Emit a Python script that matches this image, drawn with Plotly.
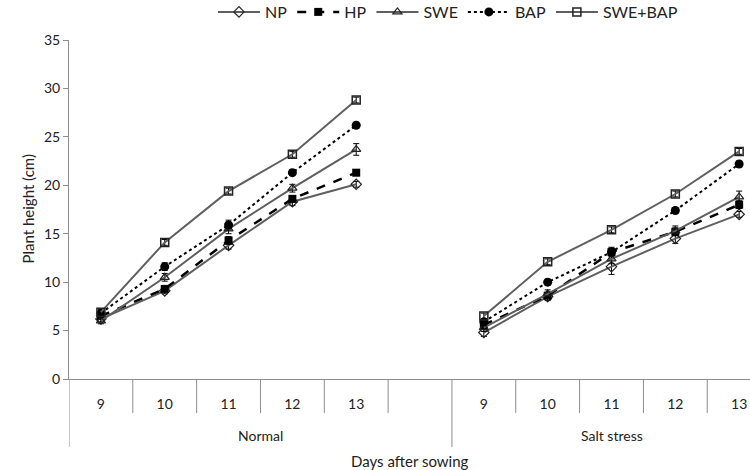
import plotly.graph_objects as go

# Category positions: 0-4 Normal (days 9-13), 5 empty, 6-10 Salt stress (days 9-13)
day_labels = ["9", "10", "11", "12", "13", "", "9", "10", "11", "12", "13"]
group_labels = ["Normal", "Salt stress"]
series_names = ["NP", "HP", "SWE", "BAP", "SWE+BAP"]

x_pos = [0, 1, 2, 3, 4, 6, 7, 8, 9, 10]

NP = [6.2, 9.1, 13.8, 18.3, 20.1, 4.8, 8.5, 11.6, 14.5, 17.0]
HP = [6.5, 9.3, 14.3, 18.6, 21.3, 5.6, 8.6, 13.1, 15.2, 18.0]
SWE = [6.0, 10.5, 15.5, 19.7, 23.7, 5.3, 8.8, 12.4, 15.3, 18.8]
BAP = [6.8, 11.6, 15.9, 21.3, 26.2, 5.9, 10.0, 13.1, 17.4, 22.2]
SWE_BAP = [6.9, 14.1, 19.4, 23.2, 28.8, 6.5, 12.1, 15.4, 19.1, 23.5]

NP_err = [0.3, 0.3, 0.4, 0.4, 0.3, 0.4, 0.4, 0.8, 0.5, 0.3]
HP_err = [0.3, 0.3, 0.4, 0.3, 0.3, 0.4, 0.3, 0.5, 0.4, 0.4]
SWE_err = [0.3, 0.4, 0.5, 0.4, 0.6, 0.4, 0.4, 0.5, 0.5, 0.6]
BAP_err = [0.3, 0.4, 0.5, 0.3, 0.3, 0.3, 0.3, 0.4, 0.3, 0.3]
SWE_BAP_err = [0.3, 0.3, 0.3, 0.3, 0.3, 0.3, 0.3, 0.3, 0.3, 0.3]

values = [NP, HP, SWE, BAP, SWE_BAP]
errors = [NP_err, HP_err, SWE_err, BAP_err, SWE_BAP_err]

GRAY = "#5f5f5f"
styles = [
    dict(line=dict(color=GRAY, width=2, dash="solid"),
         marker=dict(symbol="diamond-open", size=8, color="#222", line=dict(width=1.2))),
    dict(line=dict(color="#000", width=2.5, dash="dash"),
         marker=dict(symbol="square", size=8, color="#000")),
    dict(line=dict(color=GRAY, width=2, dash="solid"),
         marker=dict(symbol="triangle-up-open", size=8, color="#222", line=dict(width=1.2))),
    dict(line=dict(color="#000", width=2, dash="dot"),
         marker=dict(symbol="circle", size=9, color="#000")),
    dict(line=dict(color=GRAY, width=2, dash="solid"),
         marker=dict(symbol="square-open", size=8, color="#222", line=dict(width=1.5))),
]

fig = go.Figure()
for name, vals, errs, st in zip(series_names, values, errors, styles):
    # split into two groups so lines don't connect across groups
    xs = x_pos[:5] + [None] + x_pos[5:]
    ys = vals[:5] + [None] + vals[5:]
    es = errs[:5] + [0] + errs[5:]
    fig.add_trace(go.Scatter(
        x=xs, y=ys, name=name, mode="lines+markers",
        line=st["line"], marker=st["marker"],
        error_y=dict(type="data", array=es, visible=True, color="#000",
                     thickness=1, width=3),
        connectgaps=False,
    ))

AXIS = "#8c8c8c"
fig.update_layout(
    width=750, height=470,
    margin=dict(l=69, r=0, t=40, b=91, autoexpand=False),
    paper_bgcolor="white", plot_bgcolor="white",
    font=dict(family="Lato, Carlito, sans-serif", size=14, color="#222"),
    showlegend=True,
    legend=dict(orientation="h", x=(213 - 69) / 681, xanchor="left",
                y=1 + 28 / 339, yanchor="middle",
                font=dict(size=16), tracegroupgap=0, itemwidth=42),
    xaxis=dict(range=[-0.5, 10.17], showgrid=False, zeroline=False,
               showline=True, linecolor=AXIS, linewidth=1, automargin=False,
               tickmode="array", tickvals=list(range(11)), ticktext=day_labels,
               ticks="", ticklabelstandoff=12, tickfont=dict(size=14)),
    yaxis=dict(range=[0, 35], dtick=5, showgrid=False, zeroline=False,
               showline=True, linecolor=AXIS, linewidth=1, automargin=False,
               ticks="outside", ticklen=5, tickcolor=AXIS, tickfont=dict(size=14)),
)

# category separators
short_y = -34 / 339
long_y = -68 / 339
for b in [0.5, 1.5, 2.5, 3.5, 4.5, 6.5, 7.5, 8.5, 9.5]:
    fig.add_shape(type="line", xref="x", yref="paper", x0=b, x1=b, y0=0, y1=short_y,
                  line=dict(color=AXIS, width=1))
for b in [-0.5, 5.5]:
    fig.add_shape(type="line", xref="x", yref="paper", x0=b, x1=b, y0=0, y1=long_y,
                  line=dict(color=AXIS, width=1))

fig.add_annotation(text=group_labels[0], x=2.5, xref="x", y=-56 / 339, yref="paper",
                   yanchor="middle", showarrow=False, font=dict(size=14))
fig.add_annotation(text=group_labels[1], x=8.0, xref="x", y=-56 / 339, yref="paper",
                   yanchor="middle", showarrow=False, font=dict(size=14))
fig.add_annotation(text="Days after sowing", x=0.5, xref="paper", y=-82 / 339, yref="paper",
                   yanchor="middle", showarrow=False, font=dict(size=15))
fig.add_annotation(text="Plant height (cm)", x=0, xref="paper", xshift=-53,
                   y=0.5, yref="paper", textangle=-90, showarrow=False, font=dict(size=15))

fig.write_html("out.html", config={"displayModeBar": False},
               post_script="document.body.style.margin='0';")
